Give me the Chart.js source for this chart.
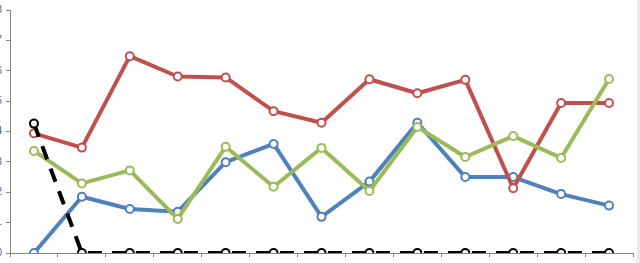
<!DOCTYPE html>
<html>
<head>
<meta charset="utf-8">
<script src="https://cdn.jsdelivr.net/npm/chart.js@4.4.1/dist/chart.umd.min.js"></script>
<style>
  html, body { margin: 0; padding: 0; background: #ffffff; overflow: hidden; width: 640px; height: 263px; }
  #wrap { position: absolute; left: -40px; top: 0; width: 680px; height: 300px; }
  #strip { position: absolute; left: 637px; top: 0; width: 3px; height: 263px; background: #e9e9e9; }
</style>
</head>
<body>
<div id="wrap"><canvas id="c"></canvas></div>
<div id="strip"></div>
<script>
const categories = ["1","2","3","4","5","6","7","8","9","10","11","12","13"];
const yTickLabels = ["0","1","2","3","4","5","6","7","8"];
const blueSeries  = [0, 1.85, 1.45, 1.36, 2.99, 3.59, 1.19, 2.35, 4.29, 2.50, 2.50, 1.94, 1.56];
const redSeries   = [3.94, 3.47, 6.48, 5.81, 5.78, 4.67, 4.29, 5.72, 5.26, 5.70, 2.13, 4.94, 4.94];
const greenSeries = [3.36, 2.29, 2.72, 1.12, 3.50, 2.18, 3.46, 2.04, 4.15, 3.16, 3.85, 3.13, 5.73];
const blackSeries = [4.26, 0, 0, 0, 0, 0, 0, 0, 0, 0, 0, 0, 0];

function ds(label, data, color, order, dash) {
  return {
    label: label,
    data: data,
    borderColor: color,
    backgroundColor: '#ffffff',
    borderWidth: 4,
    pointRadius: 4,
    pointBorderWidth: 2,
    pointBorderColor: color,
    pointBackgroundColor: '#ffffff',
    pointHoverRadius: 4,
    tension: 0,
    fill: false,
    order: order,
    borderDash: dash || [],
    borderCapStyle: 'butt',
    borderJoinStyle: 'round'
  };
}

new Chart(document.getElementById('c'), {
  type: 'line',
  data: {
    labels: categories,
    datasets: [
      ds('Series 1', blueSeries, '#4F81BD', 4),
      ds('Series 2', redSeries, '#C0504D', 3),
      ds('Series 3', greenSeries, '#9BBB59', 2),
      ds('Series 4', blackSeries, '#000000', 1, [14, 10])
    ]
  },
  options: {
    responsive: true,
    maintainAspectRatio: false,
    animation: false,
    devicePixelRatio: 1,
    layout: { padding: { top: 10, right: 7, bottom: 0, left: 0 } },
    plugins: { legend: { display: false }, tooltip: { enabled: false }, title: { display: false } },
    scales: {
      x: {
        type: 'category',
        offset: true,
        grid: { offset: true, drawOnChartArea: false, drawTicks: true, tickLength: 4, color: '#868686' },
        border: { display: true, color: '#868686', width: 1 },
        ticks: { display: false },
        afterFit: function (s) { s.height = 47; }
      },
      y: {
        min: 0, max: 8,
        ticks: {
          stepSize: 1,
          padding: 4,
          color: '#4a6282',
          font: { family: 'Liberation Sans', size: 10 },
          callback: function (v, i) { return yTickLabels[i]; }
        },
        grid: { drawOnChartArea: false, drawTicks: true, tickLength: 4, color: '#868686' },
        border: { display: true, color: '#868686', width: 1 },
        afterFit: function (s) { s.width = 50; }
      }
    }
  }
});
</script>
</body>
</html>
